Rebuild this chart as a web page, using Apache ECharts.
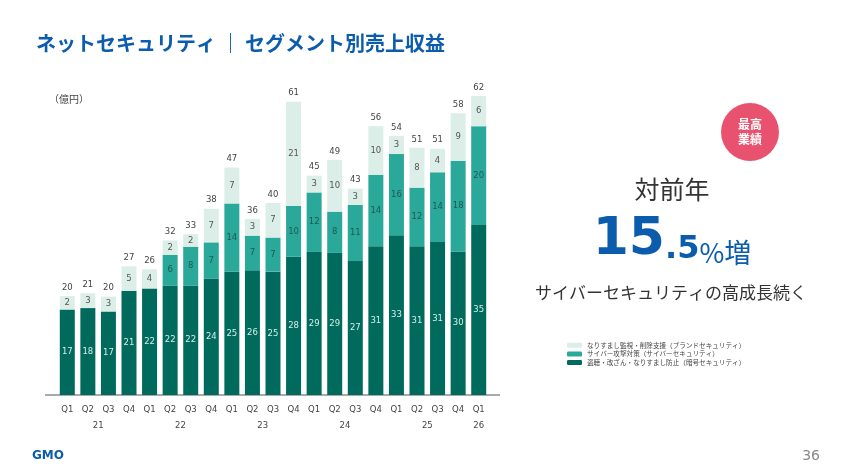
<!DOCTYPE html>
<html>
<head>
<meta charset="utf-8">
<script src="https://cdn.jsdelivr.net/npm/echarts@6/dist/echarts.min.js"></script>
<style>
  html, body { margin: 0; padding: 0; background: #fff; }
  #main { width: 843px; height: 474px; }
</style>
</head>
<body>
<div id="main"></div>
<script>
// 四半期
var quarters = ['Q1', 'Q2', 'Q3', 'Q4', 'Q1', 'Q2', 'Q3', 'Q4', 'Q1', 'Q2', 'Q3', 'Q4',
                'Q1', 'Q2', 'Q3', 'Q4', 'Q1', 'Q2', 'Q3', 'Q4', 'Q1'];
var years = ['21', '22', '23', '24', '25', '26'];
var yearStart = [0, 4, 8, 12, 16, 20];
var yearEnd = [3, 7, 11, 15, 19, 20];

// bar heights (億円)
var cryptoVal = [17.8, 18.1, 17.4, 21.7, 22.2, 22.8, 22.8, 24.2, 25.7, 26.0, 25.7, 28.8,
                 29.8, 29.6, 27.9, 31.0, 33.3, 31.0, 31.9, 29.9, 35.4];
var cyberVal = [0, 0, 0, 0, 0, 6.4, 8.1, 7.6, 14.2, 7.2, 7.1, 10.6,
                12.4, 8.6, 11.7, 14.9, 16.9, 12.2, 14.5, 18.9, 20.6];
var brandVal = [2.8, 3.1, 3.1, 5.1, 4.0, 3.0, 2.6, 7.0, 7.5, 3.5, 7.2, 21.7,
                3.5, 10.8, 3.4, 10.1, 3.8, 8.3, 4.9, 9.9, 6.3];

// printed labels
var cryptoLbl = [17, 18, 17, 21, 22, 22, 22, 24, 25, 26, 25, 28, 29, 29, 27, 31, 33, 31, 31, 30, 35];
var cyberLbl = [null, null, null, null, null, 6, 8, 7, 14, 7, 7, 10, 12, 8, 11, 14, 16, 12, 14, 18, 20];
var brandLbl = [2, 3, 3, 5, 4, 2, 2, 7, 7, 3, 7, 21, 3, 10, 3, 10, 3, 8, 4, 9, 6];
var totalLbl = [20, 21, 20, 27, 26, 32, 33, 38, 47, 36, 40, 61, 45, 49, 43, 56, 54, 51, 51, 58, 62];

var nameBrand = 'なりすまし監視・削除支援（ブランドセキュリティ）';
var nameCyber = 'サイバー攻撃対策（サイバーセキュリティ）';
var nameCrypto = '盗聴・改ざん・なりすまし防止（暗号セキュリティ）';

var numFont = 'DejaVu Sans';
var jpFont = 'Noto Sans CJK JP';

function lbl(arr, color) {
    return {
        show: true,
        position: 'inside',
        fontFamily: numFont,
        fontSize: 8.5,
        color: color,
        formatter: function (p) {
            var v = arr[p.dataIndex];
            return v == null ? '' : String(v);
        }
    };
}

var option = {
    animation: false,
    textStyle: { fontFamily: jpFont },
    title: {
        text: 'ネットセキュリティ ｜ セグメント別売上収益',
        left: 31,
        top: 28,
        textStyle: { fontFamily: jpFont, fontSize: 20, fontWeight: 'bold', color: '#0b5cad' }
    },
    legend: {
        orient: 'vertical',
        left: 562,
        top: 337,
        itemWidth: 15,
        itemHeight: 5,
        itemGap: 2,
        data: [nameBrand, nameCyber, nameCrypto],
        textStyle: { fontFamily: jpFont, fontSize: 6.6, color: '#444' }
    },
    grid: {
        left: 57,
        right: 354,
        top: 59,
        bottom: 79
    },
    xAxis: {
        type: 'category',
        data: quarters,
        axisLine: { show: false },
        axisTick: { show: false },
        axisLabel: { fontFamily: numFont, fontSize: 8.5, color: '#444', margin: 10 }
    },
    yAxis: {
        type: 'value',
        min: 0,
        max: 70,
        show: false
    },
    series: [{
        name: nameCrypto,
        type: 'bar',
        stack: 'total',
        barWidth: 15,
        itemStyle: { color: '#006b5c' },
        label: lbl(cryptoLbl, '#d4eee8'),
        data: cryptoVal
    }, {
        name: nameCyber,
        type: 'bar',
        stack: 'total',
        itemStyle: { color: '#2aa899' },
        label: lbl(cyberLbl, '#1c5a52'),
        data: cyberVal
    }, {
        name: nameBrand,
        type: 'bar',
        stack: 'total',
        itemStyle: { color: '#dceee8' },
        label: lbl(brandLbl, '#555'),
        data: brandVal
    }, {
        // 合計ラベル用
        name: 'total',
        type: 'bar',
        stack: 'total',
        itemStyle: { color: 'transparent' },
        label: {
            show: true,
            position: 'top',
            distance: 4,
            fontFamily: numFont,
            fontSize: 8.5,
            color: '#444',
            formatter: function (p) { return String(totalLbl[p.dataIndex]); }
        },
        data: totalLbl.map(function () { return 0; })
    }]
};

var chart = echarts.init(document.getElementById('main'));
chart.setOption(option);

// 年ラベルと軸線、右側の文字
var g = [];
var baseY = chart.convertToPixel({ yAxisIndex: 0 }, 0);
g.push({
    type: 'line',
    shape: { x1: 45, y1: baseY, x2: 500, y2: baseY },
    style: { stroke: '#555', lineWidth: 1 }
});
for (var i = 0; i < years.length; i++) {
    var xa = chart.convertToPixel({ xAxisIndex: 0 }, yearStart[i]);
    var xb = chart.convertToPixel({ xAxisIndex: 0 }, yearEnd[i]);
    g.push({
        type: 'text',
        x: (xa + xb) / 2,
        y: 426,
        style: {
            text: years[i], fontFamily: numFont, fontSize: 8.5, fill: '#444',
            align: 'center', verticalAlign: 'middle'
        }
    });
}
g.push({
    type: 'text', x: 49, y: 99,
    style: { text: '（億円）', fontFamily: jpFont, fontSize: 10, fill: '#444', verticalAlign: 'middle' }
});
g.push({
    type: 'circle',
    shape: { cx: 750, cy: 132, r: 29 },
    style: { fill: '#e9526f' }
});
g.push({
    type: 'text', x: 750, y: 132,
    style: {
        text: '最高\n業績', fontFamily: jpFont, fontSize: 12, fontWeight: 'bold', fill: '#fff',
        align: 'center', verticalAlign: 'middle', lineHeight: 15
    }
});
g.push({
    type: 'text', x: 672, y: 189,
    style: { text: '対前年', fontFamily: jpFont, fontSize: 25, fill: '#333', align: 'center', verticalAlign: 'middle' }
});
g.push({
    type: 'text', x: 672, y: 240,
    style: {
        text: '{a|15}{b|.5}{c|%増}',
        align: 'center', verticalAlign: 'middle',
        rich: {
            a: { fontFamily: 'DejaVu Sans', fontSize: 52, fontWeight: 'bold', fill: '#0b5cad', color: '#0b5cad', verticalAlign: 'bottom' },
            b: { fontFamily: 'DejaVu Sans', fontSize: 32, fontWeight: 'bold', fill: '#0b5cad', color: '#0b5cad', verticalAlign: 'bottom' },
            c: { fontFamily: jpFont, fontSize: 27, fill: '#0b5cad', color: '#0b5cad', verticalAlign: 'bottom' }
        }
    }
});
g.push({
    type: 'text', x: 671, y: 293,
    style: { text: 'サイバーセキュリティの高成長続く', fontFamily: jpFont, fontSize: 17, fill: '#333', align: 'center', verticalAlign: 'middle' }
});
g.push({
    type: 'text', x: 32, y: 456,
    style: { text: 'GMO', fontFamily: 'DejaVu Sans', fontSize: 12, fontWeight: 'bold', fill: '#0b5cad', verticalAlign: 'middle' }
});
g.push({
    type: 'text', x: 820, y: 456,
    style: { text: '36', fontFamily: 'DejaVu Sans', fontSize: 14, fill: '#888', align: 'right', verticalAlign: 'middle' }
});
chart.setOption({ graphic: g });
</script>
</body>
</html>
